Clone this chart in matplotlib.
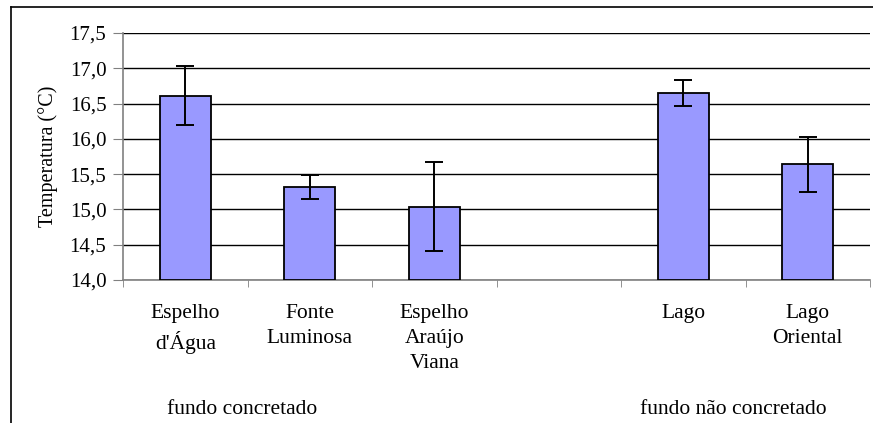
import matplotlib.pyplot as plt
from matplotlib.lines import Line2D

# mean water temperature per site, with deviation
sites = ["Espelho\nd'Água", "Fonte\nLuminosa", "Espelho\nAraújo\nViana", "", "Lago", "Lago\nOriental"]
temps = [16.61, 15.32, 15.04, None, 16.65, 15.64]
errors = [0.42, 0.17, 0.63, None, 0.19, 0.39]
groups = ["fundo concretado", "fundo não concretado"]
yticks = [14.0, 14.5, 15.0, 15.5, 16.0, 16.5, 17.0, 17.5]

plt.rcParams['font.family'] = ['Liberation Serif', 'DejaVu Serif']

fig = plt.figure(figsize=(8.73, 4.23), dpi=100)
ax = fig.add_axes([123 / 873, 1 - 280 / 423, 747 / 873, 247 / 423])

xs = [i for i, t in enumerate(temps) if t is not None]
vals = [t for t in temps if t is not None]
errs = [e for e in errors if e is not None]

ax.bar(xs, [v - 14.0 for v in vals], bottom=14.0, width=0.41,
       color='#9999ff', edgecolor='black', linewidth=1.3, zorder=3)
ax.errorbar(xs, vals, yerr=errs, fmt='none', ecolor='black',
            elinewidth=1.4, capsize=6.5, capthick=1.4, zorder=4)

ax.set_xlim(-0.5, len(sites) - 0.5)
ax.set_ylim(14.0, 17.5)
ax.set_yticks(yticks)
ax.set_yticklabels([f"{v:.1f}".replace('.', ',') for v in yticks], fontsize=15)
ax.yaxis.grid(True, color='black', linewidth=1.0, zorder=0)
ax.set_axisbelow(True)

ax.set_xticks(range(len(sites)))
ax.set_xticklabels(sites, fontsize=15.5, linespacing=1.45, va='top')
ax.tick_params(axis='x', which='major', length=0, pad=17)
ax.set_xticks([i - 0.5 for i in range(len(sites) + 1)], minor=True)
ax.tick_params(axis='x', which='minor', length=5, color='#808080')
ax.tick_params(axis='y', length=7, color='#808080', pad=5)

for side in ['top', 'right']:
    ax.spines[side].set_visible(False)
for side in ['left', 'bottom']:
    ax.spines[side].set_color('#808080')
    ax.spines[side].set_linewidth(1.2)

ax.set_ylabel("Temperatura (°C)", fontsize=14.5, labelpad=8)

# group captions under the categories
ax.text(0.46, 12.17, groups[0], ha='center', va='center', fontsize=15.5,
        transform=ax.transData, clip_on=False)
ax.text(4.40, 12.17, groups[1], ha='center', va='center', fontsize=15.5,
        transform=ax.transData, clip_on=False)

# chart frame
fig.add_artist(Line2D([10.5 / 873, 1], [1 - 7.5 / 423, 1 - 7.5 / 423],
                      color='black', linewidth=1.2, transform=fig.transFigure))
fig.add_artist(Line2D([10.5 / 873, 10.5 / 873], [0, 1 - 7.5 / 423],
                      color='black', linewidth=1.2, transform=fig.transFigure))

fig.savefig("out.png", dpi=100)
